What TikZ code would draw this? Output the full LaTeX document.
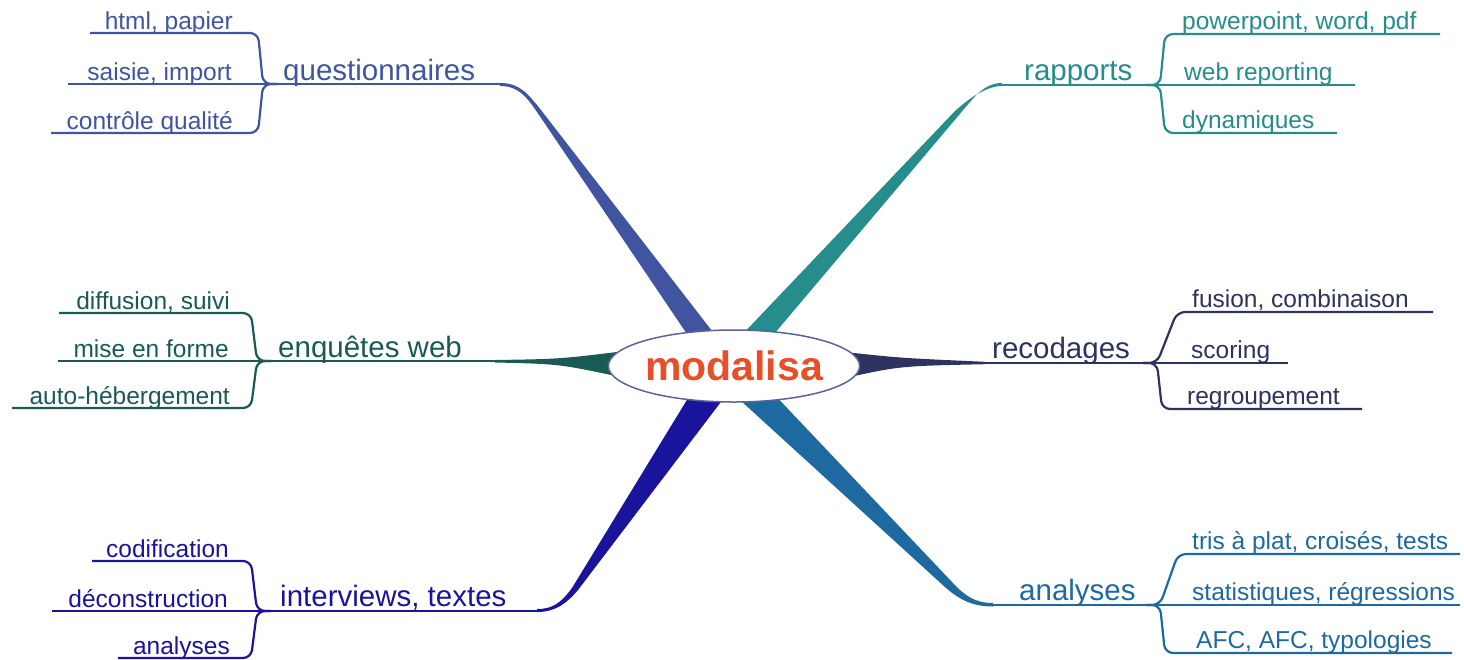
\documentclass[tikz,border=0pt]{standalone}
\usepackage{fontspec}
\setmainfont{Liberation Sans}
\usepackage{tikz}
\usetikzlibrary{shapes.geometric}
\definecolor{qcol}{RGB}{64,84,160}
\definecolor{rcol}{RGB}{38,140,140}
\definecolor{ecol}{RGB}{25,90,85}
\definecolor{dcol}{RGB}{45,50,95}
\definecolor{icol}{RGB}{25,20,155}
\definecolor{acol}{RGB}{30,105,160}
\definecolor{modcol}{RGB}{232,78,40}
\definecolor{ellcol}{RGB}{90,100,150}

\begin{document}
\begin{tikzpicture}[x=1pt,y=-1pt,
  branch/.style={line width=2.2pt},
  arm/.style={line width=2.2pt, rounded corners=8pt},
  mainlabel/.style={font=\fontsize{29.5}{32}\selectfont, inner sep=0pt},
  sublabel/.style={font=\fontsize{24.5}{27}\selectfont, inner sep=0pt}]
\useasboundingbox (0,0) rectangle (1464,659);

\fill[qcol] (500,83) .. controls (520,83) and (528,94) .. (541,110) -- (719,340) -- (691,340) -- (537,112) .. controls (526,96) and (518,86) .. (500,86) -- cycle;
\fill[rcol] (1002,83) .. controls (985,83) and (976,95) .. (964,109) -- (769,340) -- (737,340) -- (954,112) .. controls (968,99) and (986,86) .. (1002,86) -- cycle;
\fill[icol] (537,609) .. controls (552,609) and (560,604) .. (572,588) -- (693,390) -- (730,390) -- (578,590) .. controls (566,604) and (555,612) .. (537,612) -- cycle;
\fill[acol] (993,603) .. controls (975,603) and (965,596) .. (952,582) -- (770,390) -- (729,390) -- (946,588) .. controls (960,600) and (973,606.5) .. (993,606.5) -- cycle;
\fill[ecol] (495,360) .. controls (560,359) .. (625,351) -- (625,378) .. controls (560,364) .. (495,362.5) -- cycle;
\fill[dcol] (845,352) .. controls (900,358) .. (985,361.8) -- (985,364.2) .. controls (900,366) .. (845,378) -- cycle;

\node[ellipse, draw=ellcol, line width=1.5pt, fill=white, minimum width=244pt, minimum height=72pt, inner sep=0pt] (modalisa) at (734,366) {\fontsize{41}{41}\selectfont\bfseries\color{modcol}modalisa};

\coordinate (jq) at (263,84);
\coordinate (tq) at (503,84);
\draw[branch, qcol] (jq) -- (tq);
\draw[branch, qcol] (jq) -- ++(-195,0);
\draw[arm, qcol] (jq) ++(14,0) -- (jq) -- ++(-5,-51) -- ++(-168,0);
\draw[arm, qcol] (jq) ++(14,0) -- (jq) -- ++(-5,49) -- ++(-207,0);
\node[mainlabel, qcol, anchor=base west] (questionnaires) at (283,80) {questionnaires};
\node[sublabel, qcol, anchor=base east] (html) at (233,29) {html, papier};
\node[sublabel, qcol, anchor=base east] (saisie) at (232,80) {saisie, import};
\node[sublabel, qcol, anchor=base east] (controle) at (233,129) {contrôle qualité};

\coordinate (je) at (257,361);
\coordinate (te) at (497,361);
\draw[branch, ecol] (je) -- (te);
\draw[branch, ecol] (je) -- ++(-199,0);
\draw[arm, ecol] (je) ++(14,0) -- (je) -- ++(-6,-48) -- ++(-192,0);
\draw[arm, ecol] (je) ++(14,0) -- (je) -- ++(-6,47) -- ++(-239,0);
\node[mainlabel, ecol, anchor=base west] (enquetes) at (278,357) {enquêtes web};
\node[sublabel, ecol, anchor=base east] (diffusion) at (230,309) {diffusion, suivi};
\node[sublabel, ecol, anchor=base east] (miseenforme) at (229,357) {mise en forme};
\node[sublabel, ecol, anchor=base east] (hebergement) at (230,404) {auto-hébergement};

\coordinate (ji) at (257,611);
\coordinate (ti) at (537,611);
\draw[branch, icol] (ji) -- (ti);
\draw[branch, icol] (ji) -- ++(-205,0);
\draw[arm, icol] (ji) ++(14,0) -- (ji) -- ++(-6,-50) -- ++(-159,0);
\draw[arm, icol] (ji) ++(14,0) -- (ji) -- ++(-6,47) -- ++(-133,0);
\node[mainlabel, icol, anchor=base west] (interviews) at (280,606) {interviews, textes};
\node[sublabel, icol, anchor=base east] (codification) at (229,557) {codification};
\node[sublabel, icol, anchor=base east] (deconstruction) at (228,607) {déconstruction};
\node[sublabel, icol, anchor=base east] (ianalyses) at (230,654) {analyses};

\coordinate (jr) at (1160,85);
\coordinate (tr) at (1002,85);
\draw[branch, rcol] (tr) -- (jr);
\draw[branch, rcol] (jr) -- ++(195,0);
\draw[arm, rcol] (jr) ++(-14,0) -- (jr) -- ++(5,-51) -- ++(275,0);
\draw[arm, rcol] (jr) ++(-14,0) -- (jr) -- ++(5,48) -- ++(172,0);
\node[mainlabel, rcol, anchor=base west] (rapports) at (1024,80) {rapports};
\node[sublabel, rcol, anchor=base west] (powerpoint) at (1182,29) {powerpoint, word, pdf};
\node[sublabel, rcol, anchor=base west] (webreporting) at (1184,80) {web reporting};
\node[sublabel, rcol, anchor=base west] (dynamiques) at (1182,128) {dynamiques};

\coordinate (jd) at (1157,363);
\coordinate (td) at (980,363);
\draw[branch, dcol] (td) -- (jd);
\draw[branch, dcol] (jd) -- ++(131,0);
\draw[arm, dcol] (jd) ++(-14,0) -- (jd) -- ++(20,-51) -- ++(256,0);
\draw[arm, dcol] (jd) ++(-14,0) -- (jd) -- ++(5,46) -- ++(200,0);
\node[mainlabel, dcol, anchor=base west] (recodages) at (992,358) {recodages};
\node[sublabel, dcol, anchor=base west] (fusion) at (1192,307) {fusion, combinaison};
\node[sublabel, dcol, anchor=base west] (scoring) at (1191,358) {scoring};
\node[sublabel, dcol, anchor=base west] (regroupement) at (1187,404) {regroupement};

\coordinate (ja) at (1160,605);
\coordinate (ta) at (993,605);
\draw[branch, acol] (ta) -- (ja);
\draw[branch, acol] (ja) -- ++(300,0);
\draw[arm, acol] (ja) ++(-14,0) -- (ja) -- ++(18,-51) -- ++(282,0);
\draw[arm, acol] (ja) ++(-14,0) -- (ja) -- ++(5,48) -- ++(287,0);
\node[mainlabel, acol, anchor=base west] (analyses) at (1019,600) {analyses};
\node[sublabel, acol, anchor=base west] (tris) at (1192,549) {tris à plat, croisés, tests};
\node[sublabel, acol, anchor=base west] (statistiques) at (1192,600) {statistiques, régressions};
\node[sublabel, acol, anchor=base west] (afc) at (1196,648) {AFC, AFC, typologies};
\end{tikzpicture}
\end{document}
